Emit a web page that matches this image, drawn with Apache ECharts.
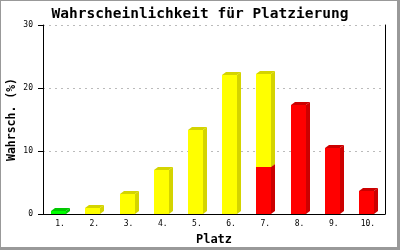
<!DOCTYPE html>
<html><head><meta charset="utf-8">
<script src="https://cdn.jsdelivr.net/npm/echarts@6/dist/echarts.min.js"></script>
<style>html,body{margin:0;padding:0;background:#fff}#c{width:400px;height:250px}</style>
</head><body><div id="c"></div>
<script>
const categories = ['1.','2.','3.','4.','5.','6.','7.','8.','9.','10.'];
const greenVals  = [0.4, 0, 0, 0, 0, 0, 0, 0, 0, 0];
const redVals    = [0, 0, 0, 0, 0, 0, 7.5, 17.3, 10.5, 3.7];
const yellowVals = [0, 1.0, 3.1, 7.0, 13.4, 22.0, 14.8, 0, 0, 0];
const yTicks = [0, 10, 20, 30];

const chart = echarts.init(document.getElementById('c'), null, {renderer:'canvas'});

function makeRender(front, dark){
  return function(params, api){
    const b = api.value(1), t = api.value(2);
    if (t <= b) return;
    const i = api.value(0);
    const pT = api.coord([i, t]);
    const pB = api.coord([i, b]);
    const x0 = Math.round(pT[0] - 9);
    const yt = Math.round(pT[1]), yb = Math.round(pB[1]);
    const W = 15, DX = 4, DY = 3;
    return {type:'group', children:[
      {type:'polygon', shape:{points:[[x0+W,yt],[x0+W+DX,yt-DY],[x0+W+DX,yb-DY],[x0+W,yb]]}, style:{fill:dark}},
      {type:'polygon', shape:{points:[[x0,yt],[x0+DX,yt-DY],[x0+W+DX,yt-DY],[x0+W,yt]]}, style:{fill:dark}},
      {type:'rect', shape:{x:x0, y:yt, width:W, height:yb-yt}, style:{fill:front}}
    ]};
  };
}
function build(vals, bases){
  return vals.map((v,i)=>[i, bases[i], bases[i]+v]);
}
const zeros = categories.map(()=>0);

const monoFont = '"DejaVu Sans Mono", monospace';
chart.setOption({
  animation:false,
  backgroundColor:'#fff',
  title:{text:'Wahrscheinlichkeit für Platzierung', left:'center', top:2,
    textStyle:{fontFamily:monoFont, fontWeight:'bold', fontSize:14.5, color:'#000'}},
  grid:{left:43, right:15, top:25, bottom:36, containLabel:false, outerBoundsMode:'none'},
  xAxis:{type:'category', data:categories, boundaryGap:true,
    name:'Platz', nameLocation:'middle', nameGap:20, nameMoveOverlap:false,
    nameTextStyle:{fontFamily:monoFont, fontWeight:'bold', fontSize:12, color:'#000'},
    axisLine:{lineStyle:{color:'#000', width:1}}, axisTick:{show:false},
    axisLabel:{fontFamily:monoFont, fontSize:8, color:'#000', margin:6}},
  yAxis:[{type:'value', min:yTicks[0], max:yTicks[yTicks.length-1], interval:10,
    name:'Wahrsch. (%)', nameLocation:'middle', nameGap:25, nameMoveOverlap:false,
    nameTextStyle:{fontFamily:monoFont, fontWeight:'bold', fontSize:11.5, color:'#000'},
    axisLine:{show:true, lineStyle:{color:'#000'}},
    axisTick:{show:true, length:5, lineStyle:{color:'#000'}},
    axisLabel:{fontFamily:monoFont, fontSize:8, color:'#000', margin:10},
    splitLine:{show:true, lineStyle:{color:'#bbb', type:[2,4]}}},
   {type:'value', position:'right', min:0, max:30, interval:10,
    axisLine:{show:true, lineStyle:{color:'#000'}}, axisTick:{show:false},
    axisLabel:{show:false}, splitLine:{show:false}}],
  graphic:[
    {type:'rect', shape:{x:0,y:0,width:1,height:250}, style:{fill:'#999'}},
    {type:'rect', shape:{x:0,y:0,width:400,height:1}, style:{fill:'#999'}},
    {type:'rect', shape:{x:397,y:0,width:3,height:250}, style:{fill:'#999'}},
    {type:'rect', shape:{x:0,y:247,width:400,height:3}, style:{fill:'#999'}}
  ],
  series:[
    {type:'custom', name:'green', data:build(greenVals, zeros), encode:{x:0, y:[1,2]}, renderItem:makeRender('#00ff00','#00c800'), z:2},
    {type:'custom', name:'red', data:build(redVals, zeros), encode:{x:0, y:[1,2]}, renderItem:makeRender('#ff0000','#cc0000'), z:2},
    {type:'custom', name:'yellow', data:build(yellowVals, redVals), encode:{x:0, y:[1,2]}, renderItem:makeRender('#ffff00','#d4d400'), z:3}
  ]
});
</script></body></html>
